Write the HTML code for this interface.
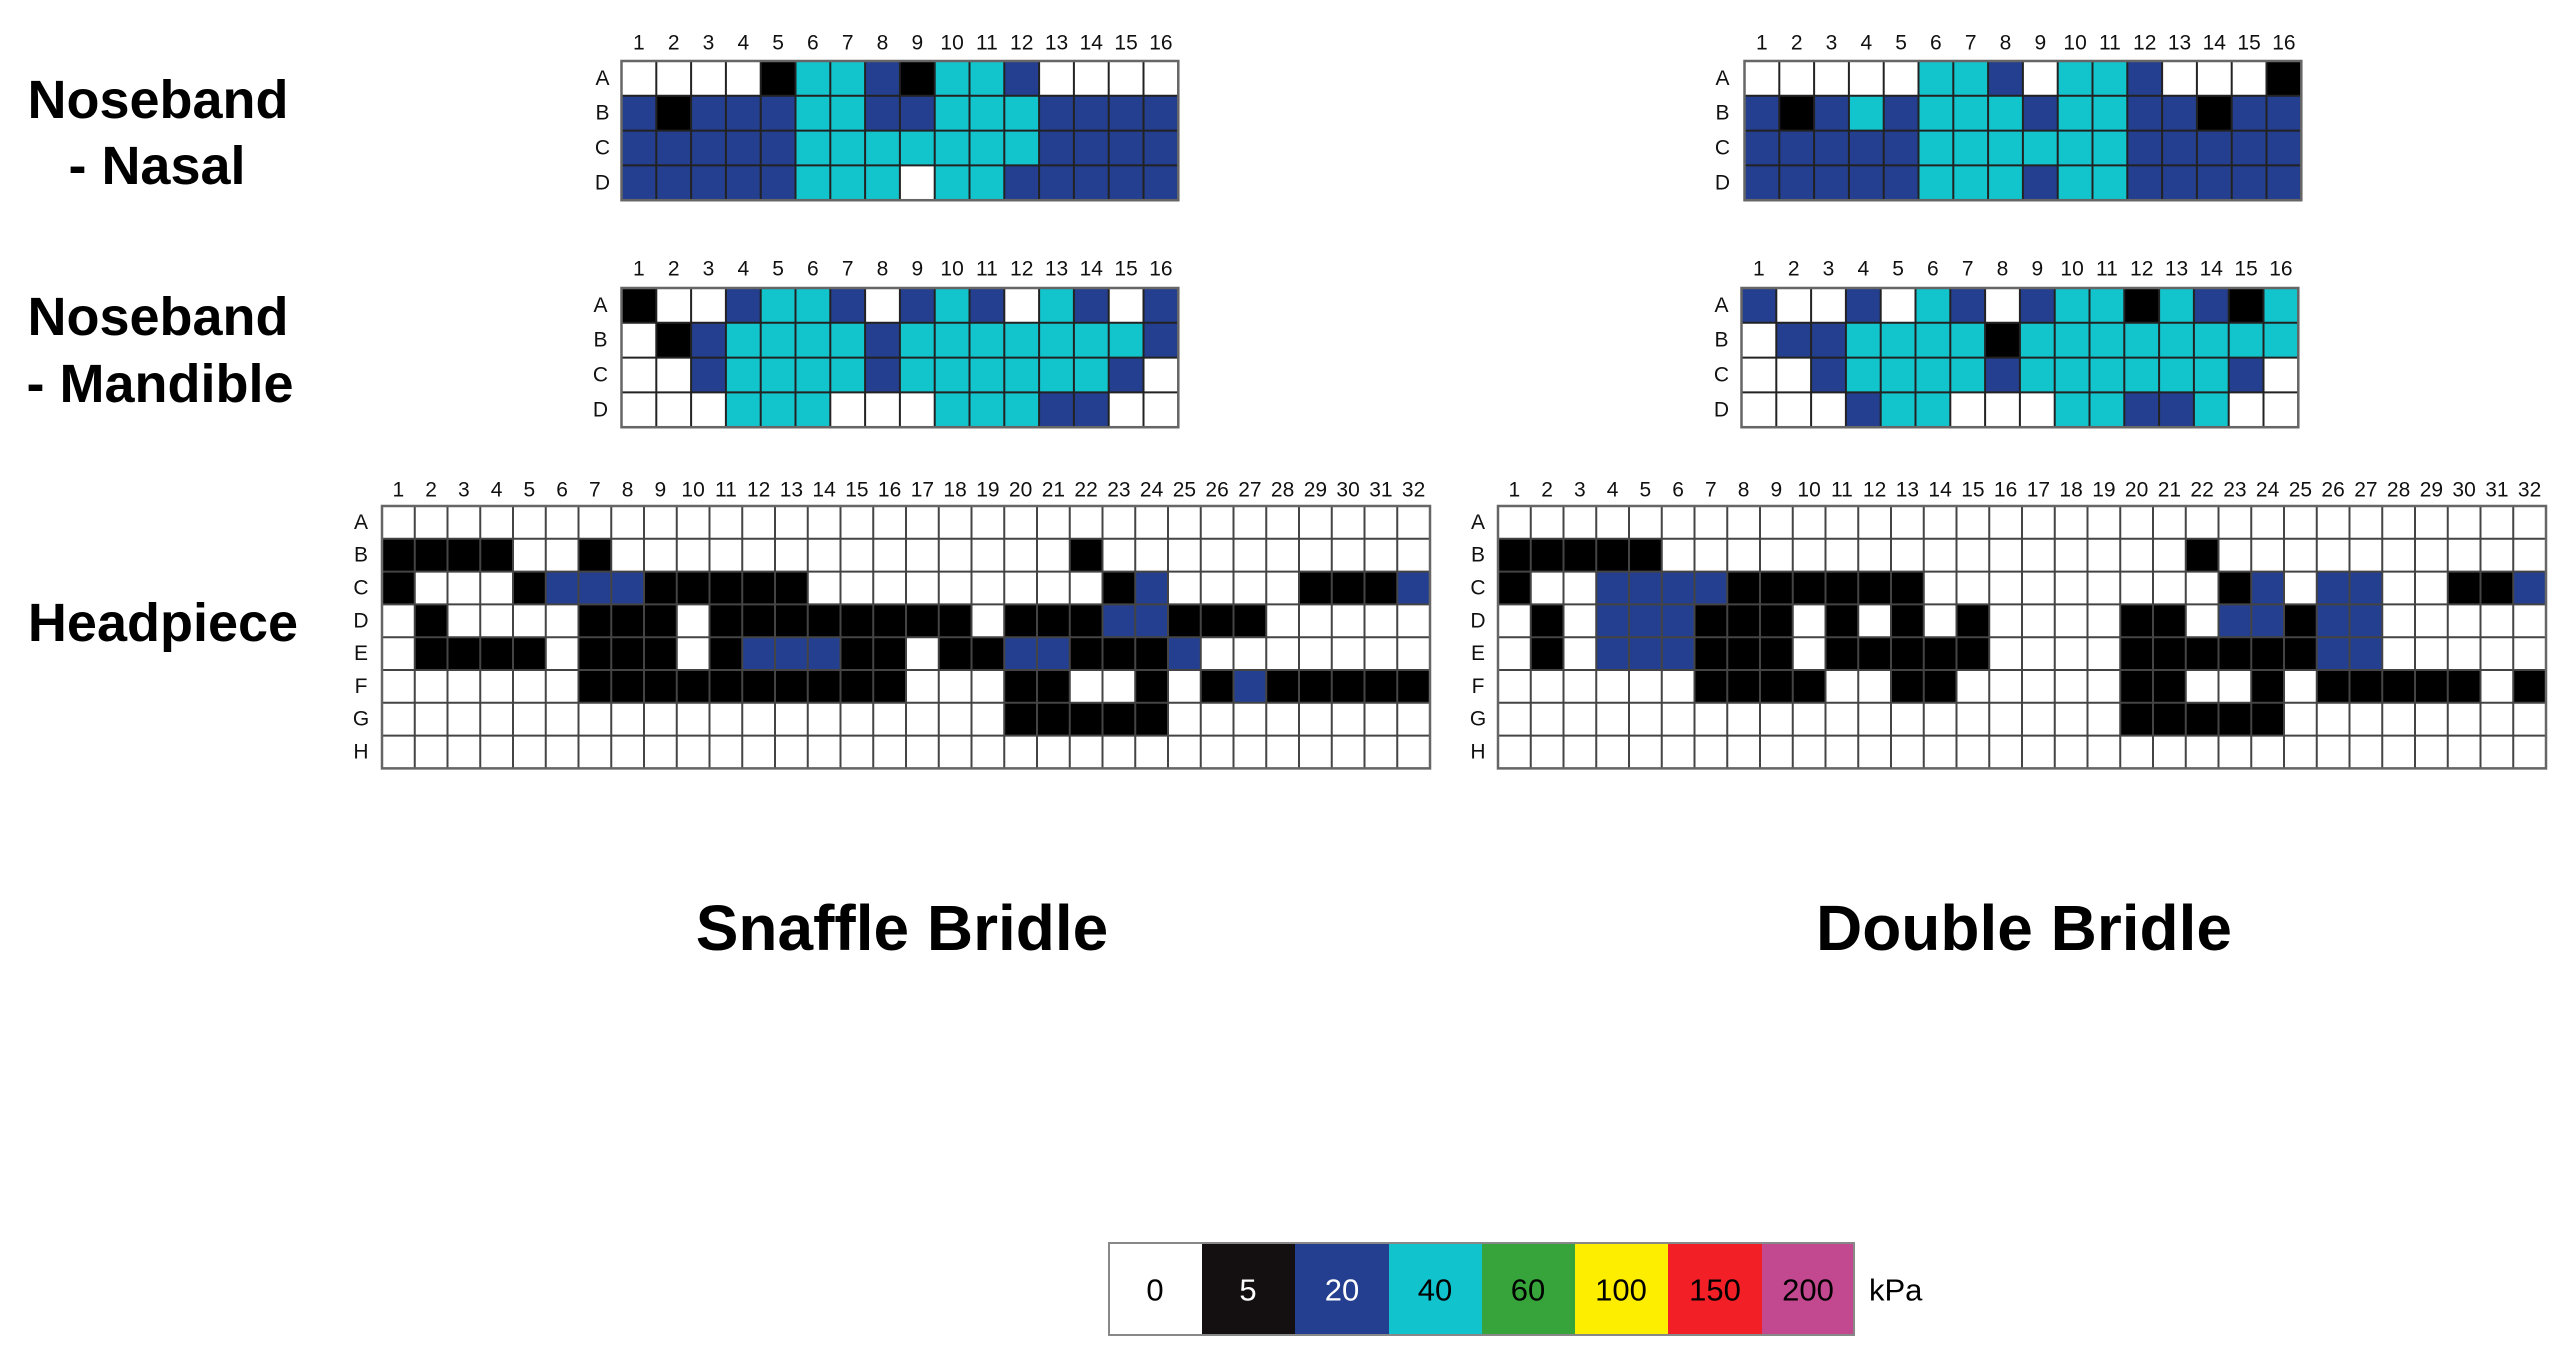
<!DOCTYPE html>
<html><head><meta charset="utf-8"><style>
html,body{margin:0;padding:0;background:#fff;}
svg{display:block;}
.t{font-family:"Liberation Sans",Arial,sans-serif;font-weight:bold;fill:#000;}
.n{font-family:"Liberation Sans",Arial,sans-serif;font-size:21px;fill:#111;text-anchor:middle;dominant-baseline:central;}
.lg{font-family:"Liberation Sans",Arial,sans-serif;font-size:31px;text-anchor:middle;dominant-baseline:central;}
</style></head><body>
<svg id="s" xmlns="http://www.w3.org/2000/svg" width="2571" height="1362" viewBox="0 0 2571 1362">
<rect width="2571" height="1362" fill="#fff"/>
<text class="t" x="158" y="118" font-size="54" text-anchor="middle">Noseband</text>
<text class="t" x="157" y="184" font-size="54" text-anchor="middle">- Nasal</text>
<text class="t" x="158" y="335" font-size="54" text-anchor="middle">Noseband</text>
<text class="t" x="160" y="402" font-size="54" text-anchor="middle">- Mandible</text>
<text class="t" x="163" y="641" font-size="54" text-anchor="middle">Headpiece</text>
<text class="t" x="902" y="950" font-size="64" text-anchor="middle">Snaffle Bridle</text>
<text class="t" x="2024" y="950" font-size="64" text-anchor="middle">Double Bridle</text>

<g id="SN" transform="translate(621.5,61)">
<g class="cells"></g>
<text class="n" x="17.4" y="-18">1</text><text class="n" x="52.2" y="-18">2</text><text class="n" x="87" y="-18">3</text><text class="n" x="121.8" y="-18">4</text><text class="n" x="156.6" y="-18">5</text><text class="n" x="191.4" y="-18">6</text><text class="n" x="226.2" y="-18">7</text><text class="n" x="261" y="-18">8</text><text class="n" x="295.8" y="-18">9</text><text class="n" x="330.6" y="-18">10</text><text class="n" x="365.4" y="-18">11</text><text class="n" x="400.2" y="-18">12</text><text class="n" x="435" y="-18">13</text><text class="n" x="469.8" y="-18">14</text><text class="n" x="504.6" y="-18">15</text><text class="n" x="539.4" y="-18">16</text>
<text class="n" x="-19" y="17.4">A</text><text class="n" x="-19" y="52.2">B</text><text class="n" x="-19" y="87">C</text><text class="n" x="-19" y="121.8">D</text>
</g>
<g id="SM" transform="translate(621.5,288)">
<g class="cells"></g>
<text class="n" x="17.4" y="-19">1</text><text class="n" x="52.2" y="-19">2</text><text class="n" x="87" y="-19">3</text><text class="n" x="121.8" y="-19">4</text><text class="n" x="156.6" y="-19">5</text><text class="n" x="191.4" y="-19">6</text><text class="n" x="226.2" y="-19">7</text><text class="n" x="261" y="-19">8</text><text class="n" x="295.8" y="-19">9</text><text class="n" x="330.6" y="-19">10</text><text class="n" x="365.4" y="-19">11</text><text class="n" x="400.2" y="-19">12</text><text class="n" x="435" y="-19">13</text><text class="n" x="469.8" y="-19">14</text><text class="n" x="504.6" y="-19">15</text><text class="n" x="539.4" y="-19">16</text>
<text class="n" x="-21" y="17.4">A</text><text class="n" x="-21" y="52.2">B</text><text class="n" x="-21" y="87">C</text><text class="n" x="-21" y="121.8">D</text>
</g>
<g id="DN" transform="translate(1744.5,61)">
<g class="cells"></g>
<text class="n" x="17.4" y="-18">1</text><text class="n" x="52.2" y="-18">2</text><text class="n" x="87" y="-18">3</text><text class="n" x="121.8" y="-18">4</text><text class="n" x="156.6" y="-18">5</text><text class="n" x="191.4" y="-18">6</text><text class="n" x="226.2" y="-18">7</text><text class="n" x="261" y="-18">8</text><text class="n" x="295.8" y="-18">9</text><text class="n" x="330.6" y="-18">10</text><text class="n" x="365.4" y="-18">11</text><text class="n" x="400.2" y="-18">12</text><text class="n" x="435" y="-18">13</text><text class="n" x="469.8" y="-18">14</text><text class="n" x="504.6" y="-18">15</text><text class="n" x="539.4" y="-18">16</text>
<text class="n" x="-22" y="17.4">A</text><text class="n" x="-22" y="52.2">B</text><text class="n" x="-22" y="87">C</text><text class="n" x="-22" y="121.8">D</text>
</g>
<g id="DM" transform="translate(1741.5,288)">
<g class="cells"></g>
<text class="n" x="17.4" y="-19">1</text><text class="n" x="52.2" y="-19">2</text><text class="n" x="87" y="-19">3</text><text class="n" x="121.8" y="-19">4</text><text class="n" x="156.6" y="-19">5</text><text class="n" x="191.4" y="-19">6</text><text class="n" x="226.2" y="-19">7</text><text class="n" x="261" y="-19">8</text><text class="n" x="295.8" y="-19">9</text><text class="n" x="330.6" y="-19">10</text><text class="n" x="365.4" y="-19">11</text><text class="n" x="400.2" y="-19">12</text><text class="n" x="435" y="-19">13</text><text class="n" x="469.8" y="-19">14</text><text class="n" x="504.6" y="-19">15</text><text class="n" x="539.4" y="-19">16</text>
<text class="n" x="-20" y="17.4">A</text><text class="n" x="-20" y="52.2">B</text><text class="n" x="-20" y="87">C</text><text class="n" x="-20" y="121.8">D</text>
</g>

<g id="SH" transform="translate(382,506)">
<g class="cells"></g>
<text class="n" x="16.4" y="-16">1</text><text class="n" x="49.1" y="-16">2</text><text class="n" x="81.9" y="-16">3</text><text class="n" x="114.6" y="-16">4</text><text class="n" x="147.4" y="-16">5</text><text class="n" x="180.1" y="-16">6</text><text class="n" x="212.9" y="-16">7</text><text class="n" x="245.6" y="-16">8</text><text class="n" x="278.4" y="-16">9</text><text class="n" x="311.1" y="-16">10</text><text class="n" x="343.9" y="-16">11</text><text class="n" x="376.6" y="-16">12</text><text class="n" x="409.4" y="-16">13</text><text class="n" x="442.1" y="-16">14</text><text class="n" x="474.9" y="-16">15</text><text class="n" x="507.6" y="-16">16</text><text class="n" x="540.4" y="-16">17</text><text class="n" x="573.1" y="-16">18</text><text class="n" x="605.9" y="-16">19</text><text class="n" x="638.6" y="-16">20</text><text class="n" x="671.4" y="-16">21</text><text class="n" x="704.1" y="-16">22</text><text class="n" x="736.9" y="-16">23</text><text class="n" x="769.6" y="-16">24</text><text class="n" x="802.4" y="-16">25</text><text class="n" x="835.1" y="-16">26</text><text class="n" x="867.9" y="-16">27</text><text class="n" x="900.6" y="-16">28</text><text class="n" x="933.4" y="-16">29</text><text class="n" x="966.1" y="-16">30</text><text class="n" x="998.9" y="-16">31</text><text class="n" x="1031.6" y="-16">32</text>
<text class="n" x="-21" y="16.4">A</text><text class="n" x="-21" y="49.2">B</text><text class="n" x="-21" y="82">C</text><text class="n" x="-21" y="114.8">D</text><text class="n" x="-21" y="147.6">E</text><text class="n" x="-21" y="180.4">F</text><text class="n" x="-21" y="213.2">G</text><text class="n" x="-21" y="246">H</text>
</g>
<g id="DH" transform="translate(1498,506)">
<g class="cells"></g>
<text class="n" x="16.4" y="-16">1</text><text class="n" x="49.1" y="-16">2</text><text class="n" x="81.9" y="-16">3</text><text class="n" x="114.6" y="-16">4</text><text class="n" x="147.4" y="-16">5</text><text class="n" x="180.1" y="-16">6</text><text class="n" x="212.9" y="-16">7</text><text class="n" x="245.6" y="-16">8</text><text class="n" x="278.4" y="-16">9</text><text class="n" x="311.1" y="-16">10</text><text class="n" x="343.9" y="-16">11</text><text class="n" x="376.6" y="-16">12</text><text class="n" x="409.4" y="-16">13</text><text class="n" x="442.1" y="-16">14</text><text class="n" x="474.9" y="-16">15</text><text class="n" x="507.6" y="-16">16</text><text class="n" x="540.4" y="-16">17</text><text class="n" x="573.1" y="-16">18</text><text class="n" x="605.9" y="-16">19</text><text class="n" x="638.6" y="-16">20</text><text class="n" x="671.4" y="-16">21</text><text class="n" x="704.1" y="-16">22</text><text class="n" x="736.9" y="-16">23</text><text class="n" x="769.6" y="-16">24</text><text class="n" x="802.4" y="-16">25</text><text class="n" x="835.1" y="-16">26</text><text class="n" x="867.9" y="-16">27</text><text class="n" x="900.6" y="-16">28</text><text class="n" x="933.4" y="-16">29</text><text class="n" x="966.1" y="-16">30</text><text class="n" x="998.9" y="-16">31</text><text class="n" x="1031.6" y="-16">32</text>
<text class="n" x="-20" y="16.4">A</text><text class="n" x="-20" y="49.2">B</text><text class="n" x="-20" y="82">C</text><text class="n" x="-20" y="114.8">D</text><text class="n" x="-20" y="147.6">E</text><text class="n" x="-20" y="180.4">F</text><text class="n" x="-20" y="213.2">G</text><text class="n" x="-20" y="246">H</text>
</g>

<g id="legend">
<rect x="1109" y="1243" width="93" height="92" fill="#fff"/>
<rect x="1202" y="1243" width="93" height="92" fill="#141012"/>
<rect x="1295" y="1243" width="94" height="92" fill="#243f8f"/>
<rect x="1389" y="1243" width="93" height="92" fill="#10c3cc"/>
<rect x="1482" y="1243" width="93" height="92" fill="#36a43a"/>
<rect x="1575" y="1243" width="93" height="92" fill="#fdee00"/>
<rect x="1668" y="1243" width="94" height="92" fill="#f21f26"/>
<rect x="1762" y="1243" width="92" height="92" fill="#c24890"/>
<rect x="1109" y="1243" width="745" height="92" fill="none" stroke="#888" stroke-width="2"/>
<text class="lg" x="1155" y="1290" fill="#000">0</text>
<text class="lg" x="1248" y="1290" fill="#fff">5</text>
<text class="lg" x="1342" y="1290" fill="#fff">20</text>
<text class="lg" x="1435" y="1290" fill="#000">40</text>
<text class="lg" x="1528" y="1290" fill="#000">60</text>
<text class="lg" x="1621" y="1290" fill="#000">100</text>
<text class="lg" x="1715" y="1290" fill="#000">150</text>
<text class="lg" x="1808" y="1290" fill="#000">200</text>
<text class="lg" x="1869" y="1290" fill="#000" style="text-anchor:start">kPa</text>
</g>
</svg>
<script>
var NS="http://www.w3.org/2000/svg";
var COL={W:"#ffffff",K:"#000000",N:"#243f8f",C:"#12c5cd"};
function draw(id,rows,cw,ch,lc){
  var g=document.querySelector("#"+id+" .cells");
  var R=rows.length,Cn=rows[0].length,i,j,r;
  for(i=0;i<R;i++)for(j=0;j<Cn;j++){
    r=document.createElementNS(NS,"rect");
    r.setAttribute("x",(j*cw).toFixed(2));r.setAttribute("y",(i*ch).toFixed(2));
    r.setAttribute("width",(cw+0.4).toFixed(2));r.setAttribute("height",(ch+0.4).toFixed(2));
    r.setAttribute("fill",COL[rows[i][j]]||"#fff");g.appendChild(r);
  }
  var l;
  for(j=0;j<=Cn;j++){l=document.createElementNS(NS,"line");l.setAttribute("x1",j*cw);l.setAttribute("x2",j*cw);l.setAttribute("y1",0);l.setAttribute("y2",R*ch);l.setAttribute("stroke",lc);l.setAttribute("stroke-width","2");g.appendChild(l);}
  for(i=0;i<=R;i++){l=document.createElementNS(NS,"line");l.setAttribute("y1",i*ch);l.setAttribute("y2",i*ch);l.setAttribute("x1",0);l.setAttribute("x2",Cn*cw);l.setAttribute("stroke",lc);l.setAttribute("stroke-width","2");g.appendChild(l);}
  r=document.createElementNS(NS,"rect");r.setAttribute("x",0);r.setAttribute("y",0);r.setAttribute("width",Cn*cw);r.setAttribute("height",R*ch);r.setAttribute("fill","none");r.setAttribute("stroke","#666");r.setAttribute("stroke-width","2.5");g.appendChild(r);
}
draw("SN",["WWWWKCCNKCCNWWWW","NKNNNCCNNCCCNNNN","NNNNNCCCCCCCNNNN","NNNNNCCCWCCNNNNN"],34.8,34.8,"#222");
draw("SM",["KWWNCCNWNCNWCNWN","WKNCCCCNCCCCCCCN","WWNCCCCNCCCCCCNW","WWWCCCWWWCCCNNWW"],34.8,34.8,"#222");
draw("DN",["WWWWWCCNWCCNWWWK","NKNCNCCCNCCNNKNN","NNNNNCCCCCCNNNNN","NNNNNCCCNCCNNNNN"],34.8,34.8,"#222");
draw("DM",["NWWNWCNWNCCKCNKC","WNNCCCCKCCCCCCCC","WWNCCCCNCCCCCCNW","WWWNCCWWWCCNNCWW"],34.8,34.8,"#222");
var W32="WWWWWWWWWWWWWWWWWWWWWWWWWWWWWWWW";
var G="WWWWWWWWWWWWWWWWWWWKKKKKWWWWWWWW";
draw("SH",[W32,
 "KKKKWWK"+"WWWWWWWWWWWWWW"+"K"+"WWWWWWWWWW",
 "KWWWKNNNKKKKK"+"WWWWWWWWW"+"KN"+"WWWW"+"KKKN",
 "WKWWWWKKKW"+"KKKKKKKK"+"W"+"KKK"+"NN"+"KKK"+"WWWWW",
 "WKKKKWKKKWK"+"NNN"+"KK"+"W"+"KK"+"NN"+"KKK"+"N"+"WWWWWWW",
 "WWWWWW"+"KKKKKKKKKK"+"WWW"+"KK"+"WW"+"K"+"W"+"K"+"N"+"KKKKK",
 G,W32],32.75,32.8,"#444");
draw("DH",[W32,
 "KKKKK"+"WWWWWWWWWWWWWWWW"+"K"+"WWWWWWWWWW",
 "KWWNNNN"+"KKKKKK"+"WWWWWWWWW"+"KN"+"W"+"NN"+"WW"+"KK"+"N",
 "WKWNNNKKKWKWKWK"+"WWWW"+"KK"+"W"+"NN"+"K"+"NN"+"WWWWW",
 "WKWNNNKKKW"+"KKKKK"+"WWWW"+"KKKKKK"+"NN"+"WWWWW",
 "WWWWWW"+"KKKK"+"WW"+"KK"+"WWWWW"+"KK"+"WW"+"K"+"W"+"KKKKK"+"W"+"K",
 G,W32],32.75,32.8,"#444");
</script>
</body></html>
